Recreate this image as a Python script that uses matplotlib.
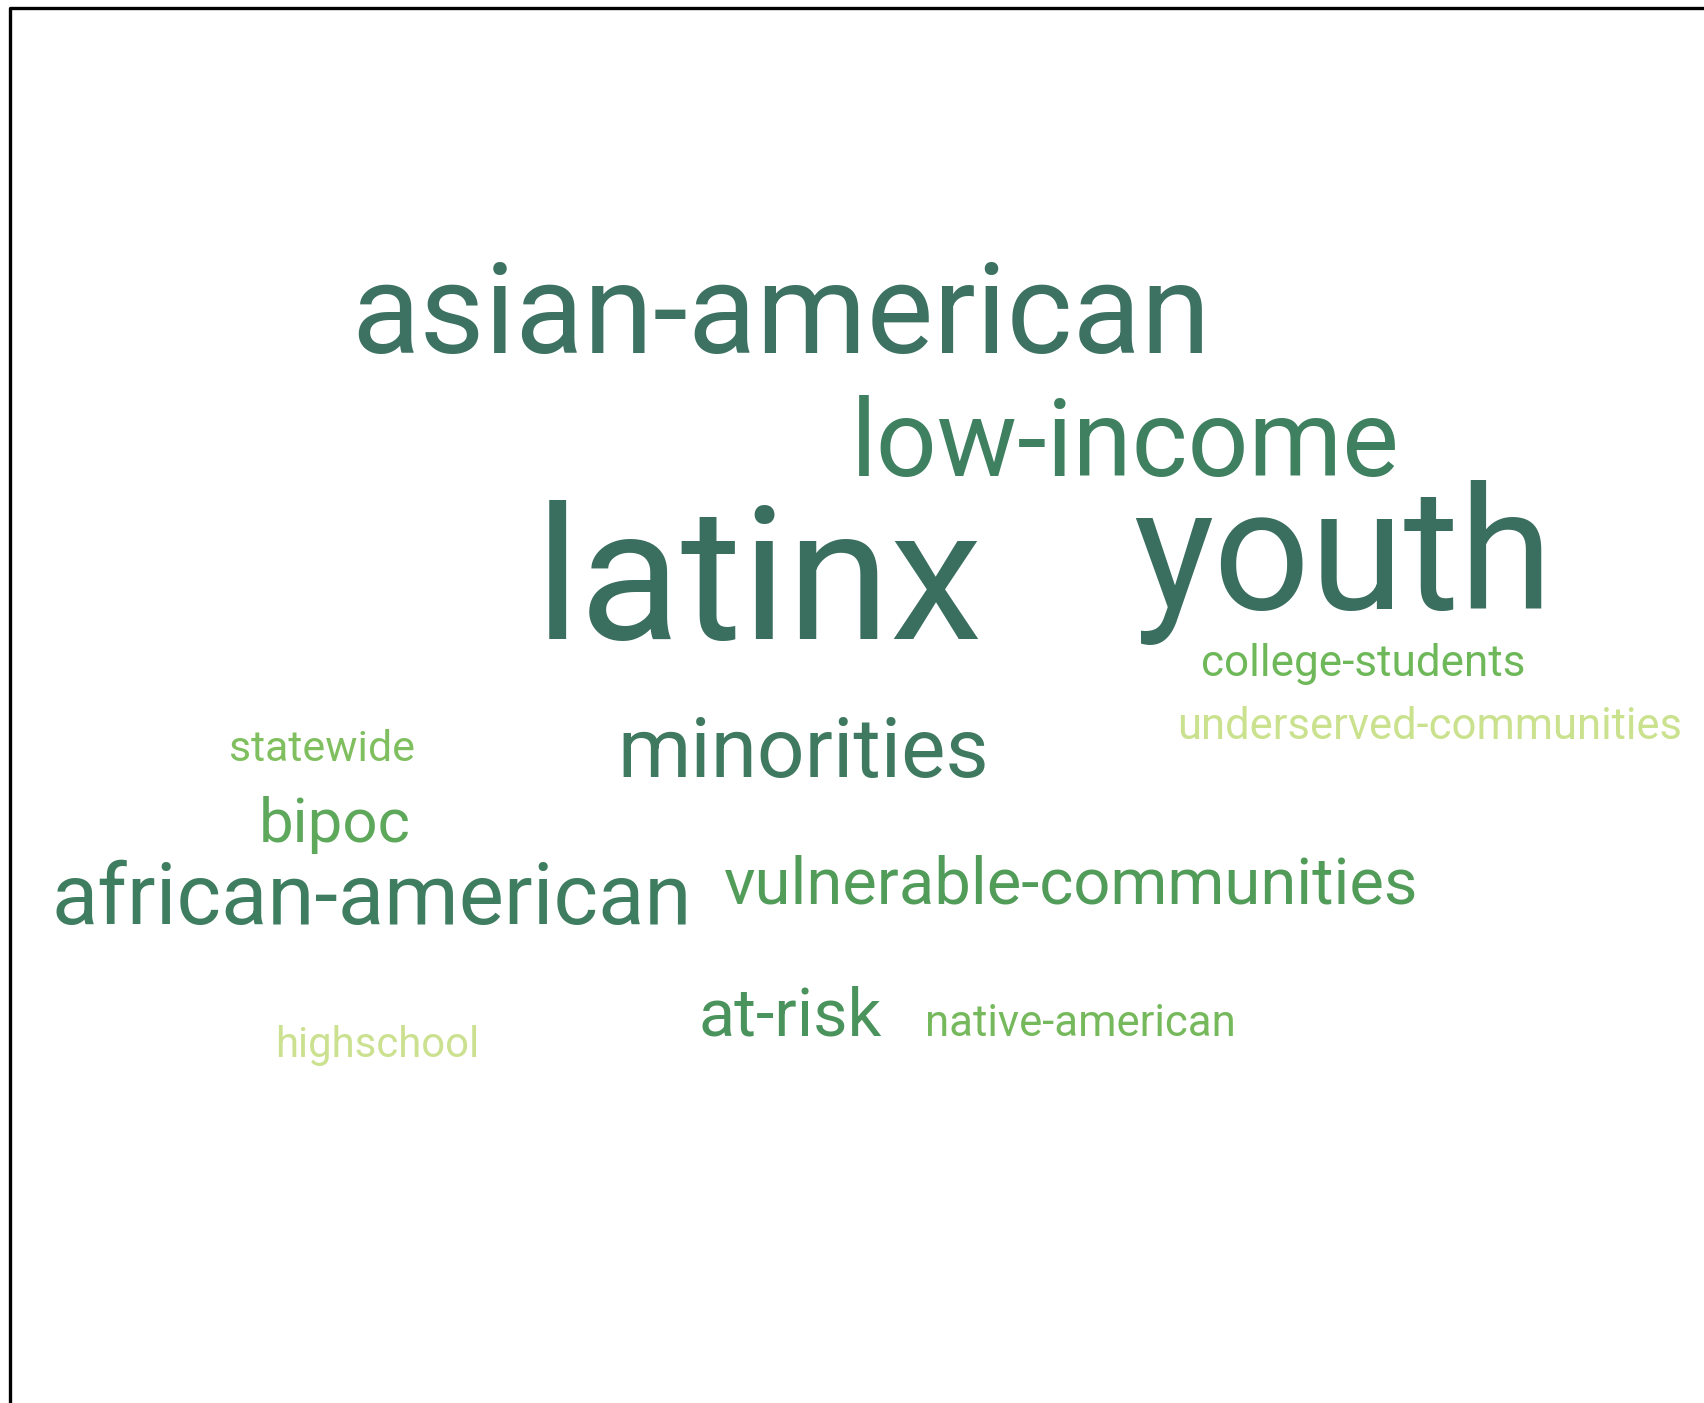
"""
Word cloud — communities mentioned in grant descriptions.
Rebuilds the cloud with plain matplotlib text, one word per Text artist.
"""

import matplotlib
matplotlib.use("Agg")
import matplotlib.pyplot as plt

# ── Data ───────────────────────────────────────────────────────────────────────
WORDS = [
    "asian-american", "low-income", "latinx", "youth",
    "college-students", "underserved-communities", "statewide", "minorities",
    "bipoc", "african-american", "vulnerable-communities",
    "at-risk", "native-american", "highschool",
]
COLORS = [
    "#3d7262", "#3f8061", "#3a6e5f", "#3a6e5f",
    "#6eb859", "#cae18d", "#80bf5f", "#3f7a60",
    "#5ea85c", "#3f7d60", "#529c5a",
    "#4a935c", "#76b95c", "#cbe190",
]

# ── Layout (pixel space of a 1704x1403 canvas) ─────────────────────────────────
LEFT     = [351, 851, 535, 1133, 1201, 1177, 229, 617, 259, 51, 724, 699, 925, 275]
RIGHT    = [1210, 1400, 983, 1552, 1525, 1682, 415, 989, 411, 691, 1418, 882, 1236, 479]
BASELINE = [353, 476, 639, 609, 676, 739, 761, 777, 842, 924, 904, 1036, 1036, 1057]

W, H, DPI = 1704, 1403, 100
FONT      = "Roboto"

fig = plt.figure(figsize=(W / DPI, H / DPI), dpi=DPI)
ax = fig.add_axes([0, 0, 1, 1])
ax.set_xlim(0, W)
ax.set_ylim(H, 0)
ax.axis("off")

# frame: only the top and left edges are visible in the source screenshot
ax.plot([9.5, 9.5, W], [H, 8, 8], color="black", linewidth=2.4,
        solid_capstyle="projecting")

renderer = fig.canvas.get_renderer()
for word, color, x0, x1, yb in zip(WORDS, COLORS, LEFT, RIGHT, BASELINE):
    t = ax.text(x0, yb, word, fontsize=100, family=FONT,
                color=color, ha="left", va="baseline")
    w = t.get_window_extent(renderer).width
    t.set_fontsize(100 * (x1 - x0) / w)

fig.savefig("out.png", dpi=DPI, facecolor="white")
plt.close(fig)
